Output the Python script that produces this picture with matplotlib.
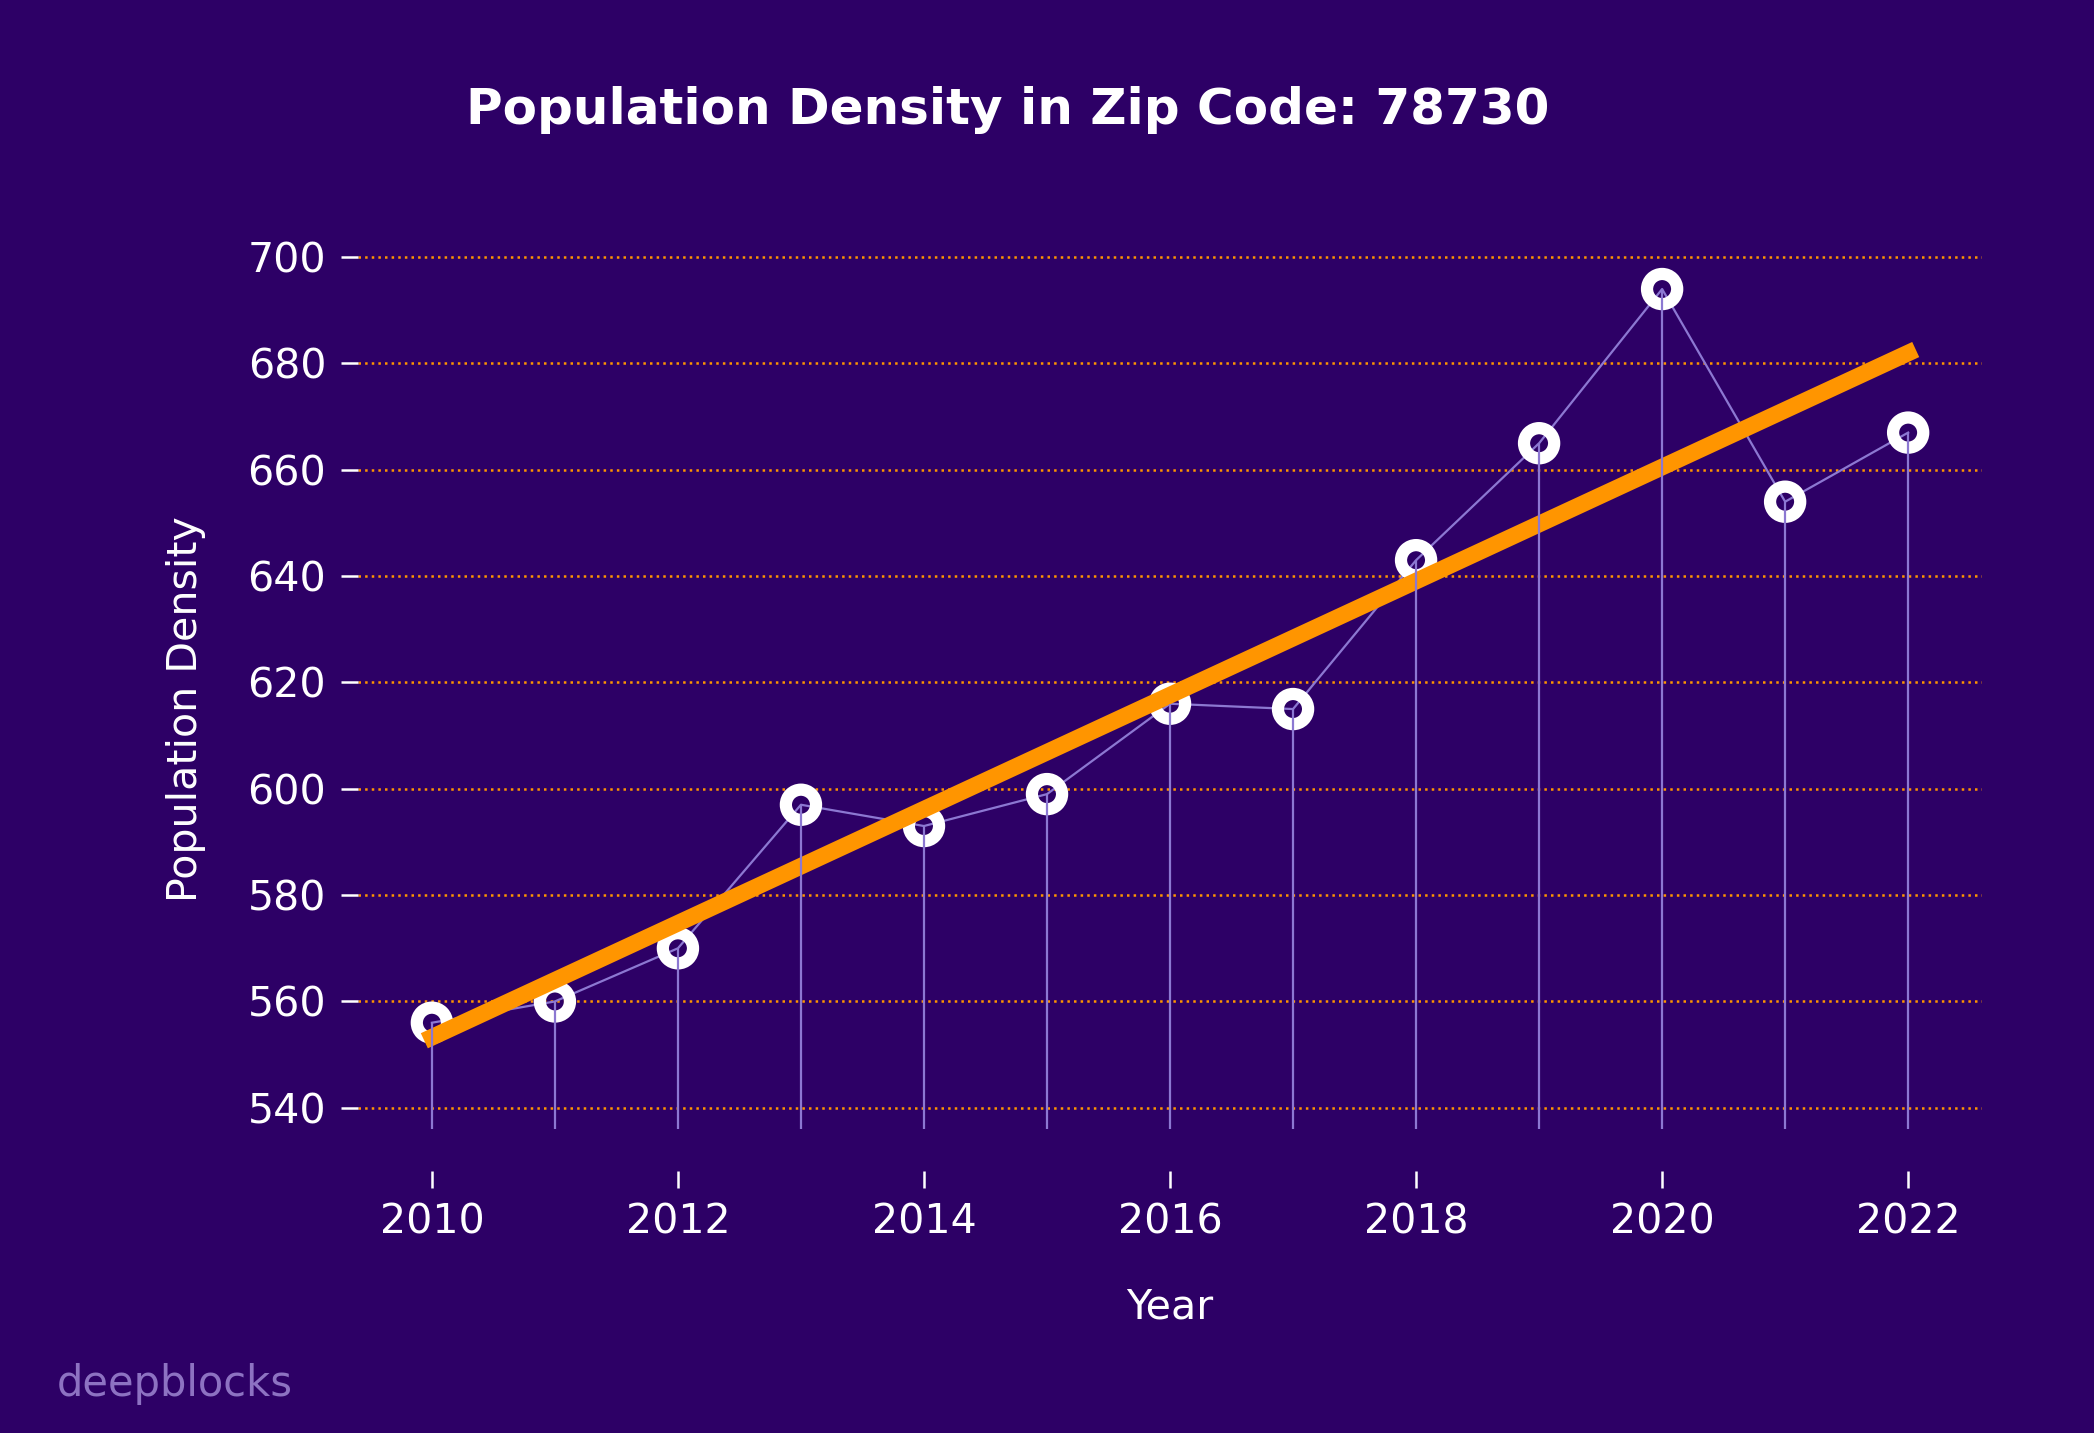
import numpy as np
import matplotlib
matplotlib.use("Agg")
import matplotlib.pyplot as plt

# données
years = [2010, 2011, 2012, 2013, 2014, 2015, 2016, 2017, 2018, 2019, 2020, 2021, 2022]
density = [556, 560, 570, 597, 593, 599, 616, 615, 643, 665, 694, 654, 667]
yticks = [540, 560, 580, 600, 620, 640, 660, 680, 700]
xticks = [2010, 2012, 2014, 2016, 2018, 2020, 2022]

bg = "#2d0066"
lav = "#8c78d2"
orange = "#ff9500"

fig = plt.figure(figsize=(10.47, 7.165), dpi=200, facecolor=bg)
ax = fig.add_axes([0.171, 0.1828, 0.7755, 0.6448])
ax.set_facecolor(bg)

x = np.array(years)
y = np.array(density)

# ligne de liaison sous les marqueurs
ax.plot(x, y, color=lav, linewidth=0.8, zorder=2)
ax.scatter(x, y, s=118, facecolors="none", edgecolors="white",
           linewidths=4.4, zorder=3)

# tendance linéaire
coef = np.polyfit(x, y, 1)
ax.plot(x, np.polyval(coef, x), color=orange, linewidth=6.0, zorder=4,
        solid_capstyle="projecting")

# tiges verticales par-dessus
ax.vlines(x, y.min() - 20, y, color=lav, linewidth=0.8, zorder=5)

ax.set_yticks(yticks)
ax.set_xticks(xticks)
ax.grid(axis="y", color=orange, linestyle=":", linewidth=0.9, zorder=1)
ax.set_axisbelow(True)
for s in ax.spines.values():
    s.set_visible(False)
ax.tick_params(colors="white", labelsize=14.8, length=6, width=0.9, pad=5.5)

ax.set_xlabel("Year", color="white", fontsize=14.8, labelpad=16)
ax.set_ylabel("Population Density", color="white", fontsize=14.8, labelpad=15)

fig.text(0.481, 0.923, "Population Density in Zip Code: 78730", color="white",
         fontsize=18, fontweight="bold", ha="center", va="center")
fig.text(0.027, 0.0345, "deepblocks", color="#8d72c2", fontsize=15,
         ha="left", va="center")

fig.savefig("out.png", dpi=200, facecolor=bg)
